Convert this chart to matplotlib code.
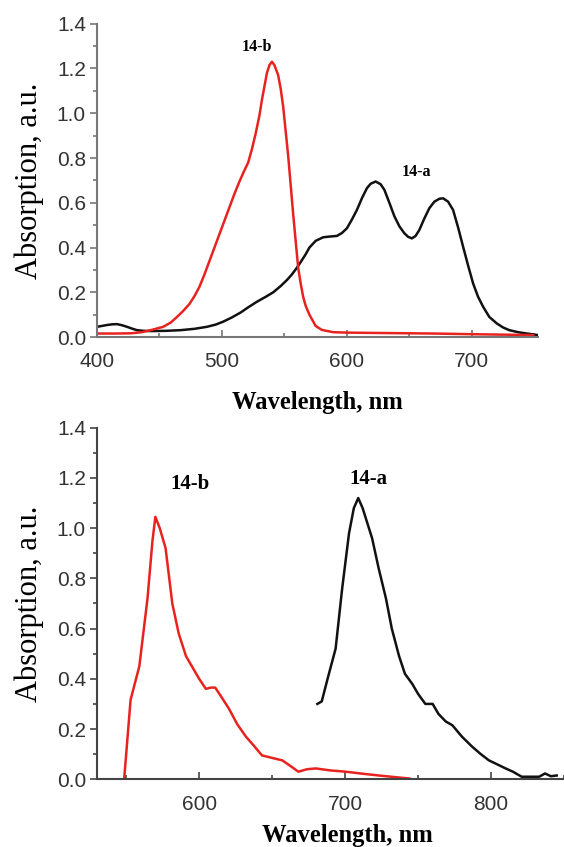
"""
Absorption / emission spectra of 14-a and 14-b
"""

import matplotlib
matplotlib.use("Agg")
import matplotlib.pyplot as plt
from matplotlib.ticker import MultipleLocator

# top panel: absorption, 14-b (red)
abs_b_wl = [400, 415, 427, 436, 443, 453, 459, 464, 469, 474, 478, 482, 486, 490, 494, 498,
            502, 506, 510, 514, 518, 521, 524, 527, 530, 532, 534, 536, 538, 540, 542, 545,
            547, 549, 551, 553, 555, 557, 559, 561, 563, 565, 567, 570, 575, 580, 589, 600,
            616, 650, 669, 700, 749]
abs_b_val = [0.016, 0.016, 0.017, 0.022, 0.031, 0.046, 0.065, 0.09, 0.117, 0.148, 0.183, 0.225, 0.28, 0.34, 0.40, 0.46,
             0.52, 0.58, 0.64, 0.695, 0.745, 0.78, 0.84, 0.91, 0.99, 1.06, 1.12, 1.18, 1.215, 1.23, 1.215, 1.17,
             1.11, 1.03, 0.92, 0.81, 0.68, 0.55, 0.43, 0.31, 0.24, 0.18, 0.14, 0.10, 0.05, 0.032, 0.022, 0.02,
             0.019, 0.017, 0.016, 0.013, 0.009]

# top panel: absorption, 14-a (black)
abs_a_wl = [400, 404, 408, 412, 416, 420, 424, 428, 432, 437, 443, 455, 467, 478, 488, 495,
            501, 508, 515, 521, 528, 535, 541, 547, 552, 556, 560, 563, 567, 570, 575, 581,
            586, 592, 596, 600, 604, 608, 612, 616, 619, 623, 627, 630, 634, 638, 642, 646,
            649, 652, 655, 658, 662, 666, 670, 674, 677, 681, 685, 689, 693, 697, 701, 705,
            709, 714, 720, 725, 730, 737, 744, 753]
abs_a_val = [0.046, 0.05, 0.054, 0.057, 0.058, 0.053, 0.046, 0.038, 0.031, 0.028, 0.027, 0.028, 0.031, 0.037, 0.046, 0.056,
             0.069, 0.088, 0.11, 0.133, 0.158, 0.18, 0.20, 0.228, 0.255, 0.28, 0.31, 0.335, 0.37, 0.40, 0.43, 0.446,
             0.449, 0.452, 0.465, 0.486, 0.525, 0.568, 0.62, 0.665, 0.685, 0.695, 0.683, 0.658, 0.60, 0.54, 0.495, 0.464,
             0.448, 0.441, 0.452, 0.479, 0.53, 0.576, 0.605, 0.618, 0.62, 0.605, 0.568, 0.49, 0.404, 0.32, 0.24, 0.18,
             0.136, 0.09, 0.061, 0.043, 0.031, 0.022, 0.016, 0.009]

# bottom panel: emission, 14-b (red)
em_b_wl = [530, 540, 548.6, 553, 559, 564.6, 568, 570, 573, 577, 581.6, 586, 591, 596, 600,
           604.6, 608, 611, 615, 620.5, 626, 632, 638, 643, 650, 657, 662, 668, 674, 680,
           690, 700.5, 712, 723, 735, 744]
em_b_val = [0.0, 0.0, 0.0, 0.316, 0.45, 0.72, 0.95, 1.045, 1.0, 0.92, 0.70, 0.58, 0.49, 0.44, 0.40,
            0.36, 0.365, 0.365, 0.33, 0.28, 0.22, 0.17, 0.13, 0.095, 0.085, 0.075, 0.055, 0.03, 0.04, 0.043,
            0.035, 0.03, 0.022, 0.015, 0.008, 0.003]

# bottom panel: emission, 14-a (black)
em_a_wl = [681, 684, 688, 693.5, 698, 702.7, 706, 709, 712, 718.5, 723, 728, 732, 737, 741,
           746, 750, 755, 760, 764, 769, 773.5, 780, 787, 793, 798.6, 804, 810, 815, 821,
           827, 833, 837, 841, 845]
em_a_val = [0.30, 0.31, 0.40, 0.52, 0.76, 0.98, 1.08, 1.12, 1.08, 0.96, 0.84, 0.72, 0.60, 0.49, 0.42,
            0.38, 0.34, 0.30, 0.30, 0.26, 0.23, 0.215, 0.17, 0.13, 0.10, 0.075, 0.06, 0.043, 0.03, 0.01,
            0.01, 0.01, 0.023, 0.012, 0.015]

y_ticks = [0.0, 0.2, 0.4, 0.6, 0.8, 1.0, 1.2, 1.4]

RED = '#e8231f'
BLACK = '#111111'

fig = plt.figure(figsize=(5.64, 8.47), dpi=100)
ax1 = fig.add_axes([0.172, 0.602, 0.782, 0.370])
ax2 = fig.add_axes([0.172, 0.080, 0.828, 0.415])


def style_axes(ax, axis_color, xlabel_pad, xlabel_x):
    # 只保留左边和下边的轴
    for side in ['top', 'right']:
        ax.spines[side].set_visible(False)
    for side in ['left', 'bottom']:
        ax.spines[side].set_color(axis_color)
        ax.spines[side].set_linewidth(1.5)
    ax.set_yticks(y_ticks)
    ax.set_yticklabels([f"{t:.1f}" for t in y_ticks])
    ax.yaxis.set_minor_locator(MultipleLocator(0.1))
    ax.xaxis.set_major_locator(MultipleLocator(100))
    ax.xaxis.set_minor_locator(MultipleLocator(50))
    ax.tick_params(axis='y', which='both', direction='out', color=axis_color, width=1.2, pad=3)
    ax.tick_params(axis='y', which='major', length=5)
    ax.tick_params(axis='y', which='minor', length=3)
    ax.tick_params(axis='x', which='both', direction='in', color=axis_color, width=1.2, pad=11)
    ax.tick_params(axis='x', which='major', length=5)
    ax.tick_params(axis='x', which='minor', length=3)
    ax.tick_params(axis='both', which='major', labelsize=15, labelcolor='#333333')
    for lbl in ax.get_xticklabels() + ax.get_yticklabels():
        lbl.set_family('Liberation Sans')
    ax.set_ylabel('Absorption, a.u.', family='Liberation Serif', fontsize=22, labelpad=9)
    ax.set_xlabel('Wavelength, nm', family='Liberation Serif', fontweight='bold',
                  fontsize=17.7, labelpad=xlabel_pad)
    # 只移动水平位置，竖直位置仍由 labelpad 决定
    ax.xaxis.label.set_x(xlabel_x)


# 上图：吸收光谱
ax1.plot(abs_a_wl, abs_a_val, color=BLACK, linewidth=1.8)
ax1.plot(abs_b_wl, abs_b_val, color=RED, linewidth=1.8)
ax1.set_xlim(400, 753)
ax1.set_ylim(0, 1.4)
style_axes(ax1, '#777777', 14, 0.5)
ax1.text(528, 1.297, '14-b', family='Liberation Serif', fontweight='bold', fontsize=11.5,
         ha='center', va='center')
ax1.text(656, 0.738, '14-a', family='Liberation Serif', fontweight='bold', fontsize=11.5,
         ha='center', va='center')

# 下图：发射光谱
ax2.plot(em_b_wl, em_b_val, color=RED, linewidth=1.8)
ax2.plot(em_a_wl, em_a_val, color=BLACK, linewidth=1.8)
ax2.set_xlim(530, 850)
ax2.set_ylim(0, 1.4)
style_axes(ax2, '#444444', 7.5, 0.537)
ax2.text(593.7, 1.176, '14-b', family='Liberation Serif', fontweight='bold', fontsize=15,
         ha='center', va='center')
ax2.text(716, 1.196, '14-a', family='Liberation Serif', fontweight='bold', fontsize=15,
         ha='center', va='center')

fig.savefig('out.png', dpi=100)
